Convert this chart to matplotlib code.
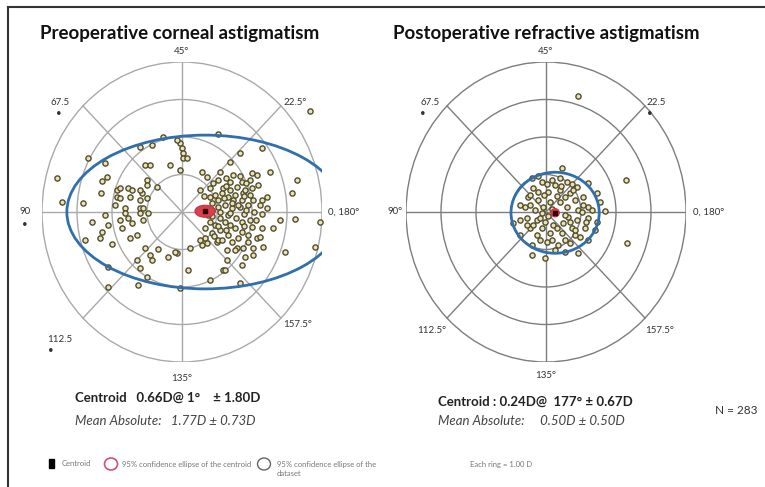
import matplotlib.pyplot as plt
from matplotlib.patches import Circle, Ellipse

W, H = 765, 487

# double-angle vectors (D) -- preoperative corneal astigmatism
pre_x = [-0.54, -0.06, 0.00, 0.03, 0.03, -1.20, -0.86, -0.14, -2.69, -2.20,
         -3.57, -3.43, -2.83, -2.29, -2.14, -2.31, -1.86, -1.77, -1.54, -1.43,
         -1.86, -1.91, -1.49, -1.20, -1.14, -1.00, -1.06, -0.91, -1.00, -0.71,
         -0.34, -0.06, -1.63, -1.20, -1.77, -1.20, -1.00, -1.11,
         1.03, 3.66, 2.29, 1.66, 1.37, 1.09, 0.57, 0.71, 1.46, 2.00,
         2.14, 2.51, 1.94, 2.17, 3.29, 3.14, 0.14, 2.29, 2.43, 0.89,
         1.17, 1.37, 1.57, 1.74, 2.03, 1.46, 1.03, 0.80, 0.51, 1.71,
         2.43, 2.23,
         0.94, 1.14, 1.31, 1.51, 1.71, 1.89, 1.66, 1.43, 1.23, 1.03,
         0.86, 1.26, 1.80, 1.94,
         2.80, 3.23, 3.94, 3.80, 2.94, 2.31, 2.14, 2.29, 2.60, 2.03,
         1.74, 1.57, 1.80, 1.71, 1.17, 1.29, 1.00, 0.66, 0.57, 0.23,
         0.17, 0.80, 1.66, 0.86, 1.09, 1.37, 1.71, 1.89, 2.23, 2.03,
         1.51, 1.29, 1.03, 0.71, 0.51, 1.23, -0.06,
         0.86, 1.09, 1.31, 1.54, 1.77, 1.94, 0.94, 1.23, 1.51, 1.71,
         2.00, 1.31, 1.14, 1.43, 1.89,
         0.80, 1.03, 1.26, 1.66, 1.83, 0.86, 1.09, 1.37, 1.60, 1.83,
         2.06, 2.00, 1.26, 1.03, 0.80, 1.60, 1.77, 2.11, 2.29, 0.91,
         0.66, 0.74, 1.37, 0.63, 1.20, 1.43, 1.77,
         -2.57, -2.20, -2.77, -2.34, -2.29, -2.11, -2.00, -1.77, -1.63, -1.54,
         -1.43, -1.20, -1.11, -0.97, -1.71, -1.49, -1.29, -1.06, -0.91, -0.86,
         -1.29, -0.40, -0.14, -2.11, -1.20, -1.00, -2.11, -1.26, -0.69, -0.20]
pre_y = [2.00, 1.84, 1.71, 1.57, 1.44, 1.73, 1.79, 1.92, 1.44, 1.31,
         0.91, 0.27, 0.24, 0.83, 0.93, 0.51, 0.59, 0.64, 0.64, 0.59,
         0.40, 0.19, 0.40, 0.32, 0.51, 0.85, 1.25, 1.25, 0.72, 0.67,
         1.25, 1.12, 0.11, 0.11, 0.37, 0.59, 0.37, 0.11,
         2.08, 2.69, 1.71, 1.57, 1.33, 1.07, 1.07, 0.93, 0.99, 1.04,
         0.99, 1.07, 0.85, 0.72, 0.85, 0.51, 1.44, 0.32, 0.40, 0.77,
         0.64, 0.59, 0.67, 0.51, 0.32, 0.32, 0.32, 0.40, 0.59, 0.80,
         0.11, 0.19,
         0.45, 0.51, 0.40, 0.45, 0.32, 0.19, 0.13, 0.11, 0.19, 0.13,
         0.24, 0.69, 0.59, 0.45,
         -0.21, -0.19, -0.27, -0.93, -1.07, -0.93, -0.69, -0.43, -0.43, -0.96,
         -0.96, -0.96, -1.20, -1.41, -1.55, -1.01, -0.80, -0.69, -0.88, -0.96,
         -1.55, -1.81, -1.89, -0.56, -0.48, -0.35, -0.27, -0.61, -0.67, -1.15,
         -1.01, -1.28, -0.75, -0.83, -0.75, -1.55, -2.03,
         -0.11, -0.16, -0.08, -0.16, -0.05, -0.21, -0.35, -0.27, -0.43, -0.53,
         -0.40, -0.61, -0.75, -0.80, -0.80,
         0.64, 0.85, 0.91, 0.96, 0.77, 0.05, 0.00, -0.03, 0.19, 0.05,
         0.00, 0.64, -0.48, -0.37, -0.27, -0.69, -0.37, -0.21, -0.05, -0.64,
         -0.43, -0.08, 0.80, 0.43, 0.37, 0.24, 0.43,
         -0.27, -0.08, -0.75, -0.69, -0.53, -0.35, -0.85, -0.21, -0.03, -0.16,
         -0.29, -0.03, -0.21, -0.03, -0.43, -0.69, -0.61, -0.96, -1.15, -1.28,
         -1.28, -1.20, -1.09, -1.47, -1.49, -1.73, -2.00, -1.95, -0.99, -1.07]

# double-angle vectors (D) -- postoperative refractive astigmatism
post_x = [0.91, 2.29, 2.31, 1.69,
          0.46, -0.40, 1.20, 1.46, 1.54, -0.74, -0.94, -0.74, -0.40, -0.40,
          -0.03, 0.54, 0.91, 1.20, 1.40, 1.46,
          -0.11, 0.17, 0.60, 0.89, 1.06, 1.20, 1.20, 1.11, 0.97, 0.69,
          0.34, 0.03, -0.26, -0.46, -0.54, -0.60, -0.51, -0.37,
          0.06, 0.40, 0.69, 0.83, 0.91, 0.89, 0.74, 0.46, 0.11, -0.11,
          -0.26, -0.31, -0.23,
          0.11, 0.40, 0.60, 0.63, 0.49, 0.20, -0.03, -0.11, -0.09,
          0.26, 0.77, 1.03, 0.83, 0.17, -0.37, -0.46, -0.23, 0.54, 0.69,
          0.31, -0.17,
          0.03, 0.43, 1.06, 1.14, 0.54, -0.17, -0.54, -0.46, 0.74, 1.31,
          0.26, -0.74, 0.31, 0.54, 0.06, 0.17, -0.06, 0.83, 0.40, -0.23]
post_y = [3.09, 0.85, -0.83, 0.03,
          1.17, 0.91, 0.77, 0.51, 0.27, 0.19, -0.29, -0.61, -0.88, -1.15,
          -1.23, -1.07, -1.09, -0.75, -0.48, -0.27,
          0.80, 0.85, 0.80, 0.67, 0.40, 0.13, -0.16, -0.43, -0.67, -0.83,
          -0.88, -0.80, -0.61, -0.43, -0.16, 0.13, 0.40, 0.64,
          0.53, 0.59, 0.51, 0.32, 0.05, -0.21, -0.43, -0.56, -0.56, -0.43,
          -0.21, 0.05, 0.32,
          0.27, 0.27, 0.13, -0.13, -0.29, -0.35, -0.27, -0.03, 0.13,
          0.72, 0.59, 0.00, -0.61, -0.75, -0.35, 0.19, 0.53, 0.40, -0.27,
          -0.43, -0.16,
          0.75, 0.69, 0.19, -0.27, -0.75, -0.75, -0.35, 0.45, 0.75, 0.05,
          -1.01, -0.21, 0.43, -0.08, -0.11, 0.08, 0.45, -0.48, 0.91, 0.96]

# centroid (x, y) and ellipse half-axes (D)
pre_centroid = (0.66, 0.02)
pre_centroid_ell = (0.29, 0.16)
pre_data_ell = (0.66, 0.0, 3.95, 2.05)
post_centroid = (0.26, -0.02)
post_centroid_ell = (0.12, 0.11)
post_data_ell = (0.26, -0.02, 1.26, 1.08)

rings = [1, 2, 3, 4]

plt.rcParams['font.family'] = ['Lato', 'DejaVu Sans']

fig = plt.figure(figsize=(W / 100, H / 100), dpi=100)


def px_text(x, y, s, **kw):
    fig.text(x / W, 1 - y / H, s, **kw)


def polar_panel(left_px, grid_col, xs, ys, centroid, cen_ell, data_ell, labels):
    ax = fig.add_axes([left_px / W, 1 - 362 / H, 280 / W, 300 / H])
    ax.set_xlim(-4, 4)
    ax.set_ylim(-4, 4)
    ax.axis('off')
    for r in rings:
        ax.add_patch(Circle((0, 0), r, fill=False, ec=grid_col, lw=1.0))
    ax.plot([-4, 4], [0, 0], color=grid_col, lw=1.0)
    ax.plot([0, 0], [-4, 4], color=grid_col, lw=1.0)
    d = 4 * 0.7071
    ax.plot([-d, d], [-d, d], color=grid_col, lw=1.0)
    ax.plot([-d, d], [d, -d], color=grid_col, lw=1.0)
    ax.scatter(xs, ys, s=14, facecolor='#eee2ad', edgecolor='#4f4d32',
               linewidth=1.0, zorder=3, clip_on=False)
    cx, cy, a, b = data_ell
    ax.add_patch(Ellipse((cx, cy), 2 * a, 2 * b, fill=False, ec='#2f6fae',
                         lw=2.0, zorder=4))
    ax.add_patch(Ellipse(centroid, 2 * cen_ell[0], 2 * cen_ell[1],
                         fc='#d8404c', ec='#c83040', lw=0.8, zorder=5))
    ax.plot(*centroid, marker='s', ms=3, color='#300000', zorder=6)
    for x, y, s, ha in labels:
        ax.text(x, y, s, ha=ha, va='center', fontsize=7, color='#333333',
                clip_on=False)
    return ax


pre_labels = [(0, 4.27, '45°', 'center'), (4.17, 0, '0, 180°', 'left'),
              (-4.49, 0.02, '90', 'center'), (-4.49, -0.32, '•', 'center'),
              (-3.49, 2.93, '67.5', 'center'), (-3.51, 2.62, '•', 'center'),
              (3.23, 2.91, '22.5°', 'center'),
              (-3.49, -3.41, '112.5', 'center'), (-3.74, -3.68, '•', 'center'),
              (3.29, -3.01, '157.5°', 'center'), (0, -4.43, '135°', 'center')]
post_labels = [(0, 4.27, '45°', 'center'), (4.2, 0, '0, 180°', 'left'),
               (-4.31, 0, '90°', 'center'),
               (-3.31, 2.91, '67.5', 'center'), (-3.51, 2.62, '•', 'center'),
               (3.14, 2.91, '22.5', 'center'), (2.97, 2.62, '•', 'center'),
               (-3.26, -3.15, '112.5°', 'center'),
               (3.26, -3.15, '157.5°', 'center'), (0, -4.37, '135°', 'center')]

polar_panel(42, '#a9a9a9', pre_x, pre_y, pre_centroid, pre_centroid_ell,
            pre_data_ell, pre_labels)
polar_panel(406, '#7d7d7d', post_x, post_y, post_centroid, post_centroid_ell,
            post_data_ell, post_labels)

# titles
px_text(40, 33, 'Preoperative corneal astigmatism', fontsize=13.5,
        fontweight='bold', va='center', color='#111111')
px_text(393, 33, 'Postoperative refractive astigmatism', fontsize=13.4,
        fontweight='bold', va='center', color='#111111')

# summary statistics
px_text(75, 398, 'Centroid   0.66D@ 1°    ± 1.80D', fontsize=9.5,
        fontweight='bold', va='center', color='#222222')
px_text(75, 421, 'Mean Absolute:   1.77D ± 0.73D', fontsize=9.5,
        style='italic', va='center', color='#444444')
px_text(438, 402, 'Centroid : 0.24D@  177° ± 0.67D', fontsize=9.5,
        fontweight='bold', va='center', color='#222222')
px_text(438, 421, 'Mean Absolute:     0.50D ± 0.50D', fontsize=9.5,
        style='italic', va='center', color='#444444')
px_text(715, 411, 'N = 283', fontsize=8.5, va='center', color='#333333')

# legend row
leg = fig.add_axes([0, 0, 1, 1], facecolor='none')
leg.set_xlim(0, W)
leg.set_ylim(H, 0)
leg.axis('off')
leg.add_patch(plt.Rectangle((49, 459), 5, 9, color='black'))
leg.add_patch(Ellipse((111, 464), 13, 12, fill=False, ec='#d0507a', lw=1.2))
leg.add_patch(Ellipse((264, 464), 13, 12, fill=False, ec='#666666', lw=1.0))
leg.text(62, 464, 'Centroid', fontsize=5.5, va='center', color='#777777')
leg.text(122, 464, '95% confidence ellipse of the centroid', fontsize=5.5,
         va='center', color='#777777')
leg.text(277, 464, '95% confidence ellipse of the', fontsize=5.5,
         va='center', color='#777777')
leg.text(277, 474, 'dataset', fontsize=5.5, va='center', color='#777777')
leg.text(470, 464, 'Each ring = 1.00 D', fontsize=5.5, va='center',
         color='#777777')

# frame
leg.plot([8, 8], [7, H], color='#333333', lw=1.5)
leg.plot([8, W], [7, 7], color='#333333', lw=1.5)

fig.savefig('out.png', dpi=100)
